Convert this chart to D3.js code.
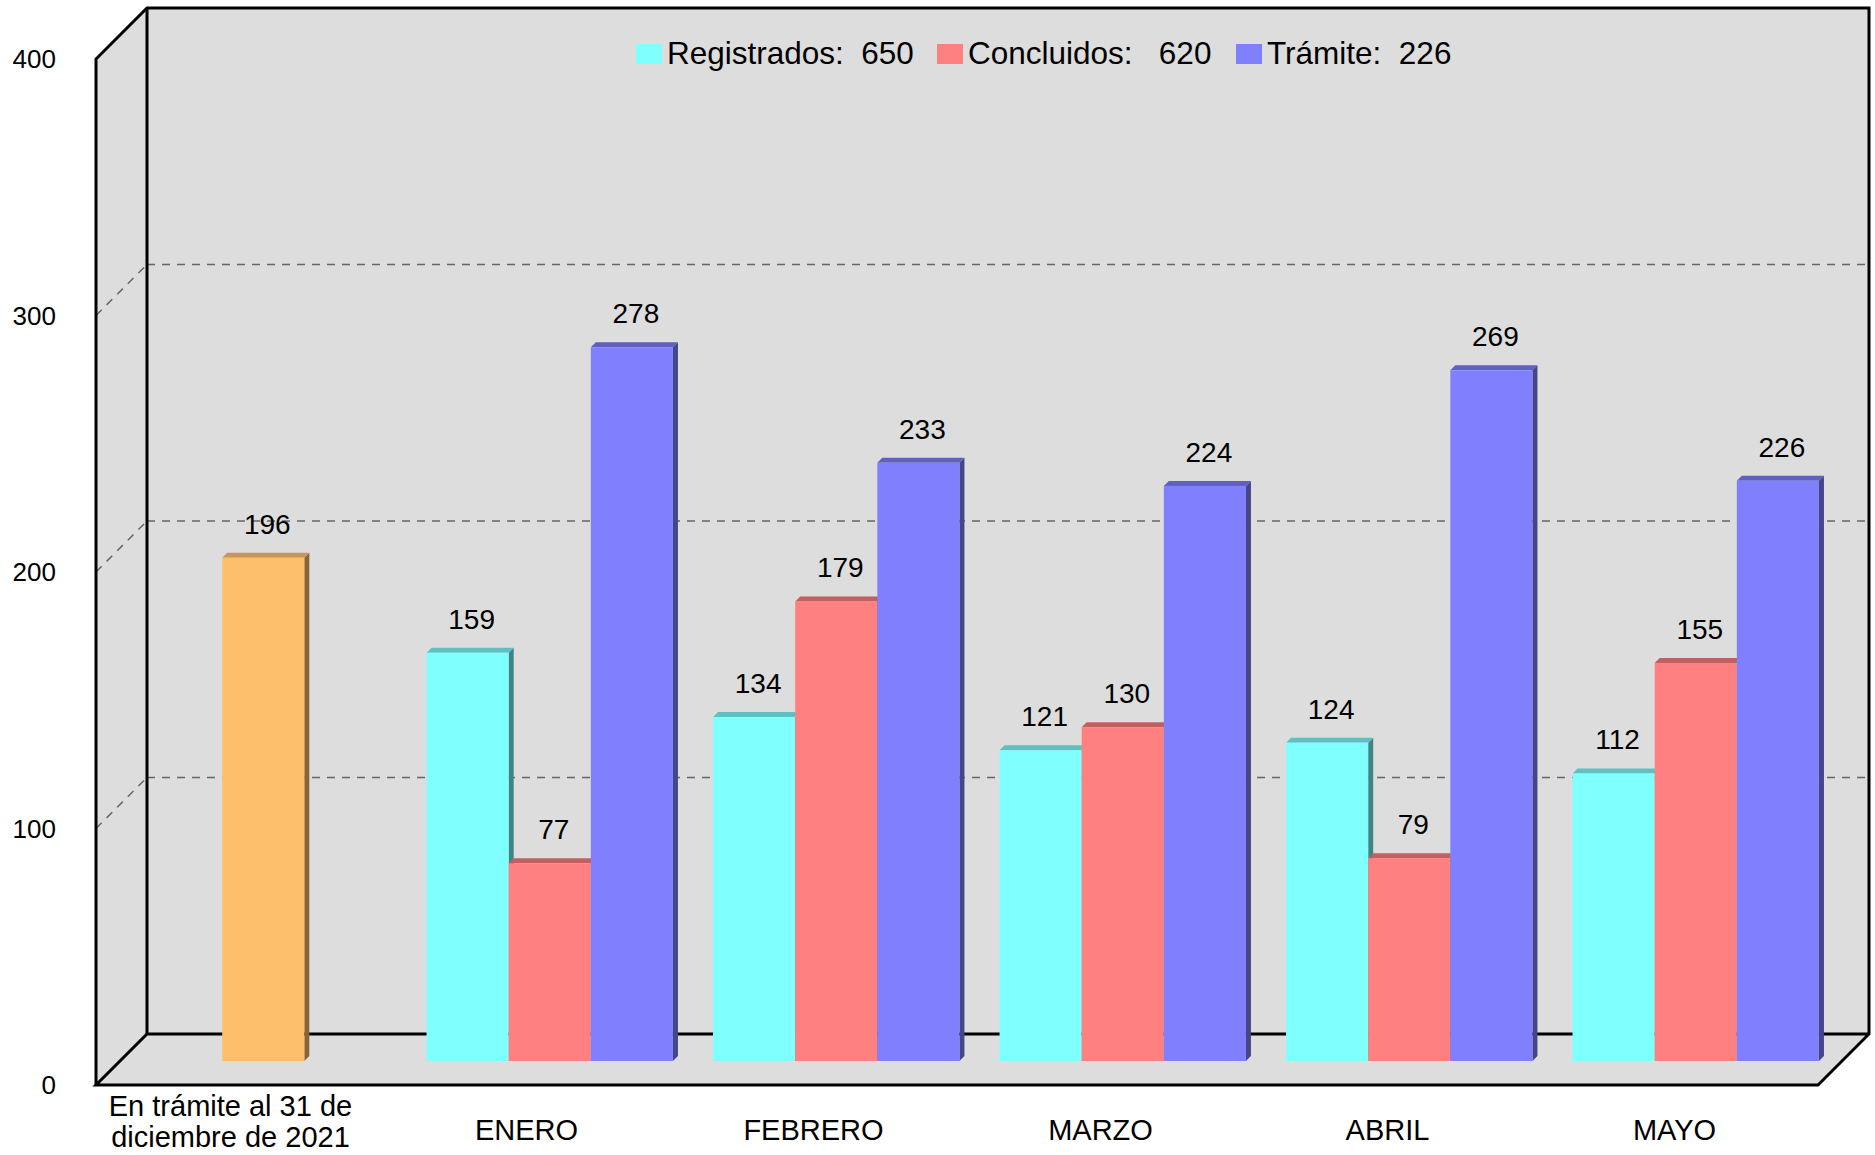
<!DOCTYPE html>
<html>
<head>
<meta charset="utf-8">
<script src="https://cdn.jsdelivr.net/npm/d3@7"></script>
<style>
  body { margin: 0; background: #fff; }
  text { font-family: "Liberation Sans", Arial, sans-serif; fill: #000; }
</style>
</head>
<body>
<svg id="chart" width="1875" height="1155"></svg>
<script>
'use strict';

// --- data ---
var categories = ['dic2021', 'ENERO', 'FEBRERO', 'MARZO', 'ABRIL', 'MAYO'];
var categoryLabels = [['En trámite al 31 de', 'diciembre de 2021'], ['ENERO'], ['FEBRERO'], ['MARZO'], ['ABRIL'], ['MAYO']];
var months = ['ENERO', 'FEBRERO', 'MARZO', 'ABRIL', 'MAYO'];
var pending2021 = 196;
var registrados = [159, 134, 121, 124, 112];
var concluidos = [77, 179, 130, 79, 155];
var tramite = [278, 233, 224, 269, 226];
var seriesNames = ['Registrados', 'Concluidos', 'Trámite'];
var legendSpaces = ['  ', '   ', '  '];
var yTicks = [0, 100, 200, 300, 400];
var gridValues = [100, 200, 300];

var colors = {
    orange: ['#fdbf6b', '#c8955a', '#8a6436'],
    Registrados: ['#80ffff', '#60bfbf', '#408585'],
    Concluidos: ['#ff8080', '#c06060', '#804545'],
    'Trámite': ['#8080ff', '#6060c0', '#45458a']
};

var svg = d3.select('#chart');

// box geometry: front plane, back plane, bars sit in between
var depth = 51;
var frontLeft = 96, frontRight = 1818;
var yFront = d3.scaleLinear().domain([0, 400]).range([1085, 59]);
var yBack = d3.scaleLinear().domain([0, 400]).range([1034, 8]);
var yBar = d3.scaleLinear().domain([0, 400]).range([1061, 34]);

var xFront = d3.scaleBand().domain(categories).range([frontLeft, frontRight]);
var xBar = d3.scaleBand().domain(categories).range([120, 1839])
    .paddingInner(0.14).paddingOuter(0.07);
var xSeries = d3.scaleBand().domain(seriesNames).range([0, xBar.bandwidth()]);

function pts(list) {
    return list.map(function(p) { return p.join(','); }).join(' ');
}

// walls and floor
var bl = frontLeft + depth, br = frontRight + depth;
var walls = svg.append('g').attr('class', 'walls');
walls.append('polygon')
    .attr('points', pts([[bl, yBack(400)], [br, yBack(400)], [br, yBack(0)], [bl, yBack(0)]]))
    .attr('fill', '#dddddd');
walls.append('polygon')
    .attr('points', pts([[frontLeft, yFront(400)], [bl, yBack(400)], [bl, yBack(0)], [frontLeft, yFront(0)]]))
    .attr('fill', '#dddddd');
walls.append('polygon')
    .attr('points', pts([[frontLeft, yFront(0)], [bl, yBack(0)], [br, yBack(0)], [frontRight, yFront(0)]]))
    .attr('fill', '#dddddd');

// dashed gridlines on back and side walls
var grid = svg.append('g').attr('class', 'grid')
    .attr('stroke', '#666').attr('stroke-width', 1.5).attr('stroke-dasharray', '8,7');
grid.selectAll('line.back').data(gridValues).enter().append('line')
    .attr('class', 'back')
    .attr('x1', bl).attr('x2', br)
    .attr('y1', function(d) { return yBack(d); })
    .attr('y2', function(d) { return yBack(d); });
grid.selectAll('line.side').data(gridValues).enter().append('line')
    .attr('class', 'side')
    .attr('x1', frontLeft).attr('x2', bl)
    .attr('y1', function(d) { return yFront(d); })
    .attr('y2', function(d) { return yBack(d); });

// box outline
var edges = [
    [[frontLeft, yFront(0)], [frontLeft, yFront(400)], [bl, yBack(400)], [br, yBack(400)], [br, yBack(0)], [frontRight, yFront(0)], [frontLeft, yFront(0)], [bl, yBack(0)], [br, yBack(0)]],
    [[bl, yBack(400)], [bl, yBack(0)]]
];
svg.append('g').selectAll('polyline').data(edges).enter().append('polyline')
    .attr('points', function(d) { return pts(d); })
    .attr('fill', 'none').attr('stroke', '#000').attr('stroke-width', 3)
    .attr('stroke-linejoin', 'miter');

// bars: list of {x0, x1, v, c}
var bars = [];
var w = xSeries.bandwidth();
var x0 = xBar('dic2021') + (xBar.bandwidth() - w) / 2;
bars.push({ x0: x0, x1: x0 + w, v: pending2021, c: colors.orange });
var seriesValues = [registrados, concluidos, tramite];
months.forEach(function(m, i) {
    seriesNames.forEach(function(s, j) {
        var bx = xBar(m) + xSeries(s);
        bars.push({ x0: bx, x1: bx + w, v: seriesValues[j][i], c: colors[s] });
    });
});

var cube = 5;
var barG = svg.append('g').attr('class', 'bars');
bars.forEach(function(b) {
    var top = yBar(b.v), bot = yBar(0);
    var g = barG.append('g');
    g.append('polygon')
        .attr('points', pts([[b.x1, top], [b.x1 + cube, top - cube], [b.x1 + cube, bot - cube], [b.x1, bot]]))
        .attr('fill', b.c[2]);
    g.append('polygon')
        .attr('points', pts([[b.x0, top], [b.x0 + cube, top - cube], [b.x1 + cube, top - cube], [b.x1, top]]))
        .attr('fill', b.c[1]);
    g.append('rect')
        .attr('x', b.x0).attr('y', top)
        .attr('width', b.x1 - b.x0).attr('height', bot - top)
        .attr('fill', b.c[0]);
});

// value labels
svg.append('g').selectAll('text').data(bars).enter().append('text')
    .attr('x', function(d) { return (d.x0 + d.x1) / 2 + 4; })
    .attr('y', function(d) { return yBar(d.v) - 24; })
    .attr('text-anchor', 'middle')
    .attr('font-size', 28)
    .text(function(d) { return d.v; });

// y tick labels on the front plane
svg.append('g').selectAll('text').data(yTicks).enter().append('text')
    .attr('x', 56)
    .attr('y', function(d) { return yFront(d); })
    .attr('dy', '0.35em')
    .attr('text-anchor', 'end')
    .attr('font-size', 26)
    .text(function(d) { return d; });

// category labels
var catG = svg.append('g').selectAll('text').data(categories).enter().append('text')
    .attr('text-anchor', 'middle')
    .attr('font-size', 29)
    .attr('x', function(d, i) {
        var cx = xFront(d) + xFront.bandwidth() / 2;
        return categoryLabels[i].length > 1 ? cx - 9 : cx;
    })
    .attr('y', function(d, i) { return categoryLabels[i].length > 1 ? 1116 : 1140; });
catG.each(function(d, i) {
    var t = d3.select(this);
    var x = t.attr('x');
    categoryLabels[i].forEach(function(line, k) {
        t.append('tspan').attr('x', x).attr('dy', k === 0 ? 0 : 31).text(line);
    });
});

// legend
var totals = [d3.sum(registrados), d3.sum(concluidos), tramite[tramite.length - 1]];
var legendX = [636, 937, 1236];
var legend = svg.append('g').selectAll('g').data(seriesNames).enter().append('g');
legend.append('rect')
    .attr('x', function(d, i) { return legendX[i]; })
    .attr('y', 44).attr('width', 26).attr('height', 20)
    .attr('fill', function(d) { return colors[d][0]; });
legend.append('text')
    .attr('x', function(d, i) { return legendX[i] + 31; })
    .attr('y', 64)
    .attr('font-size', 31.5)
    .style('white-space', 'pre')
    .text(function(d, i) { return d + ':' + legendSpaces[i] + totals[i]; });
</script>
</body>
</html>
